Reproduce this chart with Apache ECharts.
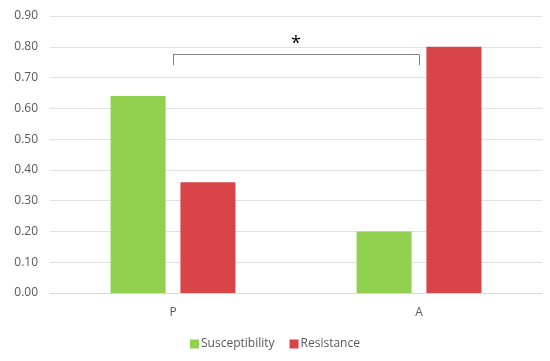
<!DOCTYPE html>
<html><head><meta charset="utf-8">
<script src="https://cdn.jsdelivr.net/npm/echarts@6/dist/echarts.min.js"></script>
<style>html,body{margin:0;padding:0;background:#fff}#c{width:550px;height:361px}</style>
</head><body><div id="c"></div>
<script>
var categories = ['P', 'A'];
var susceptibility = [0.64, 0.20];
var resistance = [0.36, 0.80];
var yTicks = { min: 0, max: 0.9, interval: 0.1 };
var bracket = { from: 'P', to: 'A', top: 0.775, foot: 0.74, label: '*' };

var chart = echarts.init(document.getElementById('c'), null, { renderer: 'canvas' });
var font = '"Open Sans", sans-serif';
chart.setOption({
  animation: false,
  textStyle: { fontFamily: font },
  grid: { left: 50, right: 8, top: 16, bottom: 68 },
  legend: {
    bottom: 6, left: 'center', itemWidth: 9, itemHeight: 9, itemGap: 15,
    icon: 'rect',
    textStyle: { color: '#595959', fontSize: 12, fontFamily: font, padding: [0, 0, 0, -3] },
    data: ['Susceptibility', 'Resistance']
  },
  xAxis: {
    type: 'category', data: categories,
    axisLine: { show: true, lineStyle: { color: '#d9d9d9', width: 1 } },
    axisTick: { show: false },
    axisLabel: { color: '#595959', fontSize: 12, margin: 14 }
  },
  yAxis: {
    type: 'value', min: yTicks.min, max: yTicks.max, interval: yTicks.interval,
    axisLine: { show: false }, axisTick: { show: false },
    axisLabel: { color: '#595959', fontSize: 12, margin: 12, formatter: function (v) { return v.toFixed(2); } },
    splitLine: { lineStyle: { color: '#e2e2e2', width: 1 } }
  },
  series: [
    {
      name: 'Susceptibility', type: 'bar', data: susceptibility,
      barWidth: 55, barGap: '27%',
      itemStyle: { color: '#92d050' }
    },
    {
      name: 'Resistance', type: 'bar', data: resistance,
      barWidth: 55,
      itemStyle: { color: '#d94449' }
    },
    {
      name: 'bracket', type: 'line', data: [null, null], symbol: 'none',
      lineStyle: { width: 0 },
      markLine: {
        silent: true, symbol: 'none',
        lineStyle: { color: '#808080', width: 1, type: 'solid' },
        label: { show: false },
        data: [
          [{ coord: [bracket.from, bracket.top], label: { show: true, position: 'middle', formatter: bracket.label, color: '#000', fontSize: 18, distance: 2 } },
           { coord: [bracket.to, bracket.top] }],
          [{ coord: [bracket.from, bracket.top] }, { coord: [bracket.from, bracket.foot] }],
          [{ coord: [bracket.to, bracket.top] }, { coord: [bracket.to, bracket.foot] }]
        ]
      }
    }
  ]
});
</script></body></html>
